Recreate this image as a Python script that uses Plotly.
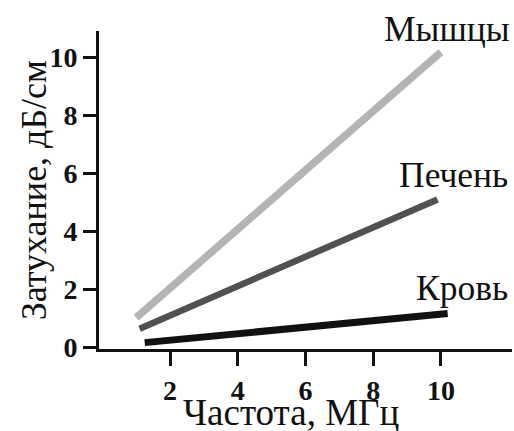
import plotly.graph_objects as go

# Data
series_names = ["Мышцы", "Печень", "Кровь"]
freq_start = [1.0, 1.1, 1.25]
freq_end = [10.0, 9.9, 10.2]
att_start = [1.03, 0.65, 0.17]
att_end = [10.17, 5.1, 1.17]
colors = ["#b4b4b4", "#515151", "#111111"]
widths = [7.5, 6.5, 7]

x_ticks = [2, 4, 6, 8, 10]
y_ticks = [0, 2, 4, 6, 8, 10]

x_title = "Частота, МГц"
y_title = "Затухание, дБ/см"

FONT = "Liberation Serif"

L, R, T, B = 99, 2, 31, 81.5
W, H = 514, 431
PW, PH = W - L - R, H - T - B


def px_to_paper(px, py):
    return (px - L) / PW, (H - B - py) / PH


label_px = [(382, 29), (397, 175), (414, 288)]

fig = go.Figure()
for i, name in enumerate(series_names):
    fig.add_trace(go.Scatter(
        x=[freq_start[i], freq_end[i]],
        y=[att_start[i], att_end[i]],
        mode="lines",
        line=dict(color=colors[i], width=widths[i]),
        name=name, showlegend=False, cliponaxis=False,
    ))
    ax, ay = px_to_paper(*label_px[i])
    fig.add_annotation(
        x=ax, y=ay, xref="paper", yref="paper",
        text=name, showarrow=False, xanchor="left", yanchor="middle",
        font=dict(family=FONT, size=35.5, color="#111111"),
    )

tx, ty = px_to_paper(291, 413)
fig.add_annotation(
    x=tx, y=ty, xref="paper", yref="paper", text=x_title,
    showarrow=False, xanchor="center", yanchor="middle",
    font=dict(family=FONT, size=37, color="#111111"),
)
yx, yy = px_to_paper(34, 190.5)
fig.add_annotation(
    x=yx, y=yy, xref="paper", yref="paper", text=y_title, textangle=-90,
    showarrow=False, xanchor="center", yanchor="middle",
    font=dict(family=FONT, size=36, color="#111111"),
)

fig.update_layout(
    width=W, height=H, margin=dict(l=L, r=R, t=T, b=B),
    paper_bgcolor="white", plot_bgcolor="white",
    font=dict(family=FONT, color="#111111"), showlegend=False,
)
fig.update_xaxes(
    range=[-0.1, 12.1], tickvals=x_ticks, ticktext=[str(v) for v in x_ticks],
    showgrid=False, zeroline=False, showline=True, linecolor="#111111", linewidth=3,
    ticks="outside", ticklen=14, tickwidth=3, tickcolor="#111111",
    tickfont=dict(family=FONT, size=28, color="#111111", weight="bold"),
)
fig.update_yaxes(
    range=[-0.05, 10.9], tickvals=y_ticks, ticktext=[str(v) for v in y_ticks],
    showgrid=False, zeroline=False, showline=True, linecolor="#111111", linewidth=3,
    ticks="outside", ticklen=13, tickwidth=3, tickcolor="#111111",
    tickfont=dict(family=FONT, size=28, color="#111111", weight="bold"),
)

fig.write_html("out.html")
